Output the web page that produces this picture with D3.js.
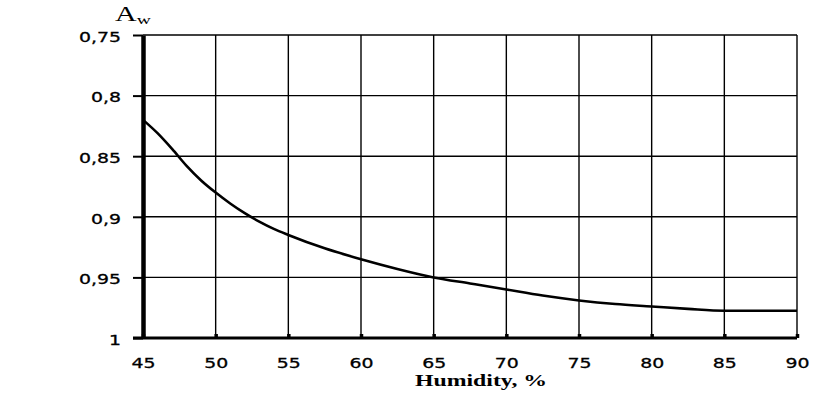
<!DOCTYPE html>
<html>
<head>
<meta charset="utf-8">
<script src="https://cdn.jsdelivr.net/npm/d3@7"></script>
<style>
  body { margin: 0; background: #fff; }
</style>
</head>
<body>
<div id="container"></div>
<script>
/* DATA */
const xTicks = [45, 50, 55, 60, 65, 70, 75, 80, 85, 90];
const yTicks = [0.75, 0.8, 0.85, 0.9, 0.95, 1];
const yTickLabels = ["0,75", "0,8", "0,85", "0,9", "0,95", "1"];
const humidity = [45, 46, 47, 48, 49, 50, 51, 52, 53, 54, 55, 57.5, 60, 62.5, 65, 67.5, 70, 72.5, 75, 77.5, 80, 82.5, 85, 87.5, 90];
const aw = [0.820, 0.831, 0.844, 0.858, 0.870, 0.880, 0.889, 0.897, 0.904, 0.910, 0.915, 0.926, 0.935, 0.943, 0.950, 0.955, 0.960, 0.965, 0.969, 0.972, 0.974, 0.976, 0.9775, 0.9775, 0.9775];

/* CONSTANTS */
const width = 827, height = 399;
const plot = {left: 143, right: 797, top: 35, bottom: 338};
const stretch = 1.35;

const svg = d3.select("#container")
  .append("svg")
  .attr("width", width)
  .attr("height", height)
  .style("display", "block");

// SCALES
const xScale = d3.scaleLinear().domain([45, 90]).range([plot.left, plot.right]);
const yScale = d3.scaleLinear().domain([0.75, 1]).range([plot.top, plot.bottom]);

// grid
svg.append("g")
  .selectAll("line")
  .data(xTicks.slice(1))
  .join("line")
  .attr("x1", d => xScale(d)).attr("x2", d => xScale(d))
  .attr("y1", plot.top).attr("y2", plot.bottom)
  .attr("stroke", "#000").attr("stroke-width", 1.4);

svg.append("g")
  .selectAll("line")
  .data(yTicks.slice(0, -1))
  .join("line")
  .attr("x1", plot.left).attr("x2", plot.right)
  .attr("y1", d => yScale(d)).attr("y2", d => yScale(d))
  .attr("stroke", "#000").attr("stroke-width", 1.4);

// curve
const line = d3.line()
  .x((d, i) => xScale(humidity[i]))
  .y(d => yScale(d))
  .curve(d3.curveMonotoneX);

svg.append("path")
  .datum(aw)
  .attr("fill", "none")
  .attr("stroke", "#000")
  .attr("stroke-width", 2.6)
  .attr("d", line);

// x axis
const xAxis = svg.append("g")
  .attr("transform", `translate(0,${plot.bottom})`)
  .call(d3.axisBottom(xScale).tickValues(xTicks).tickSize(-4).tickSizeOuter(0));
xAxis.select(".domain").attr("stroke-width", 3).attr("d", `M${plot.left - 10},0H${plot.right}`);
xAxis.selectAll(".tick line").attr("stroke-width", 3.5);
xAxis.selectAll(".tick text")
  .attr("y", 20)
  .attr("transform", `scale(${stretch},1)`)
  .style("font-family", "'DejaVu Sans', Verdana, sans-serif")
  .style("font-size", "14px")
  .attr("fill", "#000")
  .attr("stroke", "#000")
  .attr("stroke-width", 0.3);

// y axis
const yAxis = svg.append("g")
  .attr("transform", `translate(${plot.left},0)`)
  .call(d3.axisLeft(yScale).tickValues(yTicks).tickSize(10).tickSizeOuter(0)
    .tickFormat((d, i) => yTickLabels[i]));
yAxis.select(".domain").attr("stroke-width", 4.5);
yAxis.selectAll(".tick line").attr("stroke-width", 2);
yAxis.selectAll(".tick text")
  .attr("x", -22 / stretch)
  .attr("dy", "0.45em")
  .attr("transform", `scale(${stretch},1)`)
  .style("font-family", "'DejaVu Sans', Verdana, sans-serif")
  .style("font-size", "14px")
  .attr("fill", "#000")
  .attr("stroke", "#000")
  .attr("stroke-width", 0.3);

// axis titles
svg.append("text")
  .attr("transform", "translate(481,386) scale(1.36,1)")
  .attr("text-anchor", "middle")
  .style("font-family", "'Liberation Serif', 'Times New Roman', serif")
  .style("font-weight", "bold")
  .style("font-size", "17.5px")
  .text("Humidity, %");

const aLabel = svg.append("text")
  .attr("transform", "translate(115,21) scale(1.5,1)")
  .style("font-family", "'Liberation Serif', 'Times New Roman', serif")
  .style("font-size", "20px");
aLabel.append("tspan").text("A");
aLabel.append("tspan").attr("dy", 3).style("font-size", "13px").text("w");
</script>
</body>
</html>
